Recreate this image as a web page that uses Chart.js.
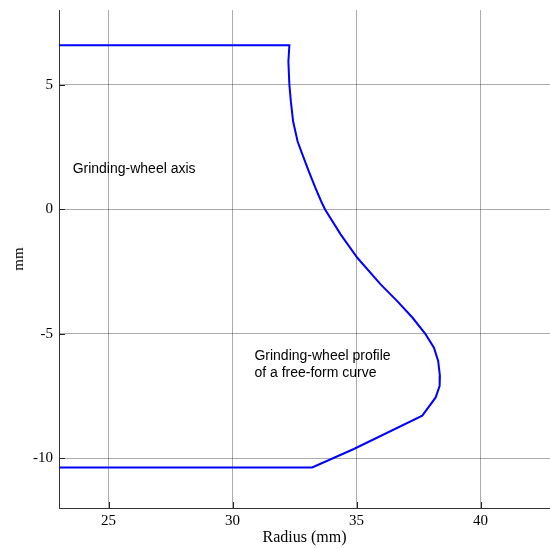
<!DOCTYPE html>
<html>
<head>
<meta charset="utf-8">
<script src="https://cdn.jsdelivr.net/npm/chart.js@4/dist/chart.umd.min.js"></script>
<style>
html,body{margin:0;padding:0;background:#fff;overflow:hidden;}
#wrap{width:550px;height:549px;position:relative;}
</style>
</head>
<body>
<div id="wrap"><canvas id="c"></canvas></div>
<script>
// Profile of the grinding wheel: radius (mm) and axial position (mm)
const radius = [23.0, 32.29, 32.25, 32.29, 32.35, 32.44, 32.62, 32.81, 33.07, 33.34, 33.57, 33.73, 34.35, 35.03, 35.97, 36.64, 37.25, 37.78, 38.12, 38.29, 38.36, 38.35, 38.19, 37.65, 34.89, 33.21, 23.0];
const axial  = [6.58, 6.58, 5.93, 5.0, 4.33, 3.53, 2.73, 2.21, 1.53, 0.86, 0.32, -0.01, -1.0, -1.95, -3.02, -3.69, -4.35, -5.02, -5.56, -6.09, -6.69, -7.09, -7.56, -8.29, -9.63, -10.37, -10.37];
const xTicks = [25, 30, 35, 40];
const yTicks = [5, 0, -5, -10];
const labelAxis = {text: ["Grinding-wheel axis"], x: 23.55, y: 1.61};
const labelProfile = {text: ["Grinding-wheel profile", "of a free-form curve"], x: 30.88, y: -5.89};

const points = radius.map((r, i) => ({x: r, y: axial[i]}));

const annotPlugin = {
  id: 'annot',
  afterDatasetsDraw(chart) {
    const ctx = chart.ctx;
    const xs = chart.scales.x, ys = chart.scales.y;
    const area = chart.chartArea;
    ctx.save();
    // inward tick marks
    ctx.strokeStyle = '#222';
    ctx.lineWidth = 1;
    ctx.beginPath();
    xTicks.forEach(v => {
      const px = Math.round(xs.getPixelForValue(v)) + 0.5;
      ctx.moveTo(px, area.bottom);
      ctx.lineTo(px, area.bottom - 6);
    });
    yTicks.forEach(v => {
      const py = Math.round(ys.getPixelForValue(v)) + 0.5;
      ctx.moveTo(area.left, py);
      ctx.lineTo(area.left + 6, py);
    });
    ctx.stroke();
    // text labels
    ctx.fillStyle = '#000';
    ctx.font = '14px "Liberation Sans", Arial, sans-serif';
    ctx.textAlign = 'left';
    ctx.textBaseline = 'middle';
    [labelAxis, labelProfile].forEach(l => {
      const px = xs.getPixelForValue(l.x);
      const py = ys.getPixelForValue(l.y);
      l.text.forEach((t, i) => ctx.fillText(t, px, py + i * 17));
    });
    ctx.restore();
  }
};

const serif = '"Liberation Serif", "Times New Roman", serif';
const gridCfg = {
  color: 'rgba(0,0,0,0.33)',
  lineWidth: 1,
  drawTicks: false
};

new Chart(document.getElementById('c'), {
  type: 'scatter',
  data: {
    datasets: [{
      data: points,
      showLine: true,
      borderColor: '#0000ff',
      backgroundColor: '#0000ff',
      borderWidth: 2,
      pointRadius: 0,
      tension: 0,
      fill: false
    }]
  },
  options: {
    responsive: true,
    maintainAspectRatio: false,
    animation: false,
    layout: {padding: {top: 10, right: 0, bottom: 0, left: 0}},
    plugins: {legend: {display: false}, tooltip: {enabled: false}},
    scales: {
      x: {
        type: 'linear',
        min: 23, max: 42.8,
        afterFit(s) { s.height = 41; s.paddingLeft = 0; s.paddingRight = 0; },
        afterBuildTicks(s) { s.ticks = xTicks.map(v => ({value: v})); },
        grid: Object.assign({}, gridCfg),
        border: {display: true, color: '#333', width: 1},
        ticks: {font: {family: serif, size: 15}, color: '#000', padding: 4, maxRotation: 0},
        title: {display: true, text: 'Radius (mm)', font: {family: serif, size: 16}, color: '#000', padding: {top: 0, bottom: 2}}
      },
      y: {
        type: 'linear',
        min: -12, max: 8,
        afterFit(s) { s.width = 59; s.paddingTop = 0; s.paddingBottom = 0; },
        afterBuildTicks(s) { s.ticks = yTicks.map(v => ({value: v})); },
        grid: Object.assign({}, gridCfg),
        border: {display: true, color: '#333', width: 1},
        ticks: {font: {family: serif, size: 15}, color: '#000', padding: 6},
        title: {display: true, text: 'mm', font: {family: serif, size: 15}, color: '#000', padding: {top: 10, bottom: 0}}
      }
    }
  },
  plugins: [annotPlugin]
});
</script>
</body>
</html>
